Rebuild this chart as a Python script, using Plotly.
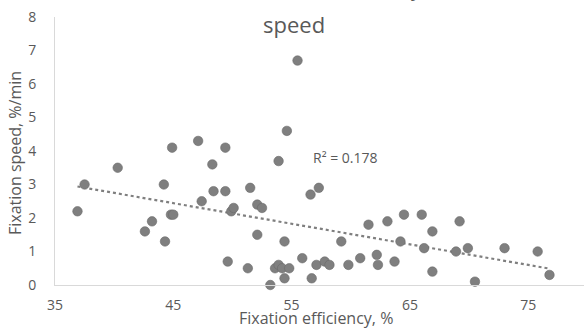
import numpy as np
import plotly.graph_objects as go

# Fixation efficiency (%) and fixation speed (%/min)
efficiency = [36.9, 37.5, 40.3, 42.6, 43.2, 44.2, 44.3, 44.8, 45.0, 44.9,
              47.1, 47.4, 48.3, 48.4, 49.4, 49.4, 49.6, 49.9, 50.1, 51.3,
              51.5, 52.1, 52.5, 52.1, 53.2, 53.6, 53.9, 54.2, 53.9, 54.4,
              54.4, 54.6, 54.8, 55.5, 55.9, 56.6, 57.3, 56.7, 57.1, 57.8,
              58.2, 59.2, 59.8, 60.8, 61.5, 62.2, 62.3, 63.1, 63.7, 64.2,
              64.5, 66.0, 66.2, 66.9, 66.9, 68.9, 69.2, 69.9, 70.5, 73.0,
              75.8, 76.8]
speed = [2.2, 3.0, 3.5, 1.6, 1.9, 3.0, 1.3, 2.1, 2.1, 4.1,
         4.3, 2.5, 3.6, 2.8, 4.1, 2.8, 0.7, 2.2, 2.3, 0.5,
         2.9, 2.4, 2.3, 1.5, 0.0, 0.5, 0.6, 0.5, 3.7, 1.3,
         0.2, 4.6, 0.5, 6.7, 0.8, 2.7, 2.9, 0.2, 0.6, 0.7,
         0.6, 1.3, 0.6, 0.8, 1.8, 0.9, 0.6, 1.9, 0.7, 1.3,
         2.1, 2.1, 1.1, 1.6, 0.4, 1.0, 1.9, 1.1, 0.1, 1.1,
         1.0, 0.3]
x_ticks = [35, 45, 55, 65, 75]
y_ticks = [0, 1, 2, 3, 4, 5, 6, 7, 8]
title_line1 = "Correlation between fixation efficiency and fixation"
title_line2 = "speed"
x_title = "Fixation efficiency, %"
y_title = "Fixation speed, %/min"
r2_label = "R² = 0.178"

TXT = "#595959"
FONT = "Open Sans"

slope, intercept = np.polyfit(efficiency, speed, 1)
tx = np.array([min(efficiency), max(efficiency)])
ty = slope * tx + intercept

fig = go.Figure()
fig.add_trace(go.Scatter(
    x=tx, y=ty, mode="lines",
    line=dict(color="#7f7f7f", width=2.2, dash="dot"),
    hoverinfo="skip", showlegend=False, cliponaxis=False))
fig.add_trace(go.Scatter(
    x=efficiency, y=speed, mode="markers",
    marker=dict(size=9.5, color="#7f7f7f", line=dict(color="#6a6a6a", width=0.6)),
    showlegend=False, cliponaxis=False))

W, H = 584, 329
L, R, T, B = 55, 0, 17, 44
pw, ph = W - L - R, H - T - B

def px(x):
    return (x - L) / pw

def py(y):
    return (H - B - y) / ph

fig.update_layout(
    width=W, height=H,
    margin=dict(l=L, r=R, t=T, b=B, pad=0),
    paper_bgcolor="white", plot_bgcolor="white",
    font=dict(family=FONT, color=TXT, size=14),
    xaxis=dict(range=[35, 35 + pw / 11.83], tickvals=x_ticks, showgrid=False,
               zeroline=False, showline=True, linecolor="#d9d9d9", linewidth=1,
               ticks="", ticklabelstandoff=7, tickfont=dict(size=14, color=TXT)),
    yaxis=dict(range=[0, 8], tickvals=y_ticks, showgrid=False, zeroline=False,
               showline=True, linecolor="#d9d9d9", linewidth=1, ticks="",
               ticklabelstandoff=15, tickfont=dict(size=14, color=TXT)),
    annotations=[
        dict(text=title_line1, xref="paper", yref="paper", x=px(294), y=py(-12),
             xanchor="center", yanchor="middle", showarrow=False,
             font=dict(size=21, color=TXT, family=FONT)),
        dict(text=title_line2, xref="paper", yref="paper", x=px(294), y=py(24),
             xanchor="center", yanchor="middle", showarrow=False,
             font=dict(size=22, color=TXT, family=FONT)),
        dict(text=x_title, xref="paper", yref="paper", x=px(316), y=py(318),
             xanchor="center", yanchor="middle", showarrow=False,
             font=dict(size=16, color=TXT, family=FONT)),
        dict(text=y_title, xref="paper", yref="paper", x=px(15), y=py(153),
             xanchor="center", yanchor="middle", showarrow=False, textangle=-90,
             font=dict(size=16, color=TXT, family=FONT)),
        dict(text=r2_label, xref="paper", yref="paper", x=px(345), y=py(157),
             xanchor="center", yanchor="middle", showarrow=False,
             font=dict(size=14, color=TXT, family=FONT)),
    ],
)

fig.write_html("out.html")
